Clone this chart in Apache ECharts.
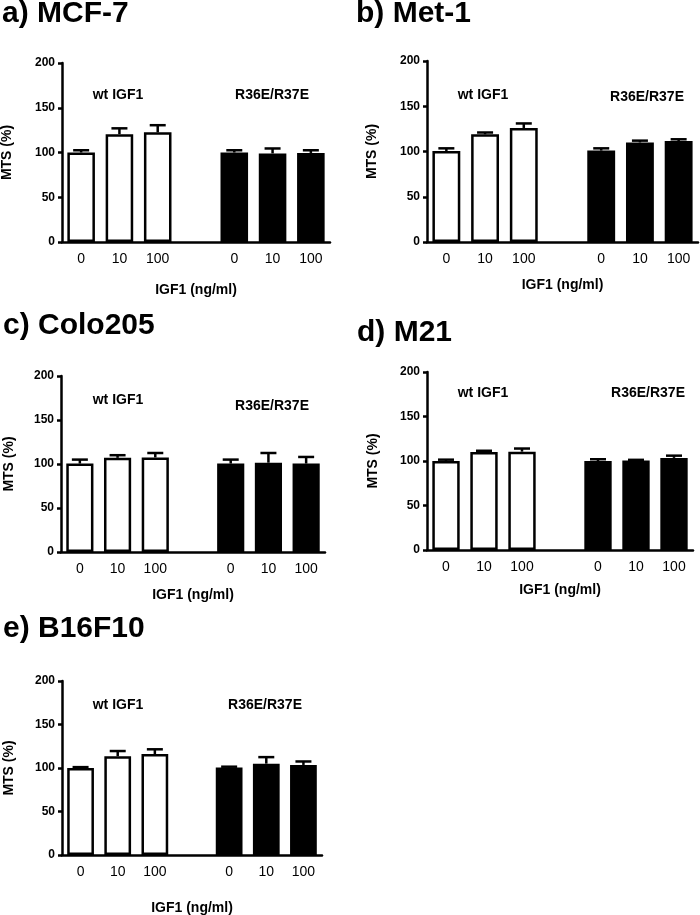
<!DOCTYPE html>
<html>
<head>
<meta charset="utf-8">
<script src="https://cdn.jsdelivr.net/npm/echarts@6/dist/echarts.min.js"></script>
<style>
  html, body { margin: 0; padding: 0; background: #fff; }
  #chart { width: 700px; height: 915px; }
</style>
</head>
<body>
<div id="chart"></div>
<script>
// x categories: wt IGF1 doses, an empty gap slot, then R36E/R37E doses
const doseLabels = ['0', '10', '100', '', '0', '10', '100']
const panelTitles = ['a) MCF-7', 'b) Met-1', 'c) Colo205', 'd) M21', 'e) B16F10']

// MTS (%) means and upper error (SEM), '-' for the gap slot
const mcf7Mean = [100, 120.5, 122.5, '-', 100, 99, 99.5]
const mcf7Err = [2.5, 6.5, 8, '-', 2.5, 5.5, 3]
const met1Mean = [100.5, 119, 126, '-', 101, 110, 111.5]
const met1Err = [3, 2, 5, '-', 2.5, 2, 2]
const colo205Mean = [100.5, 107, 107.5, '-', 100.5, 101.5, 100.5]
const colo205Err = [4.5, 3, 5, '-', 4.5, 11, 7.5]
const m21Mean = [100, 110, 110.5, '-', 100, 100.5, 103.5]
const m21Err = [1.5, 1.5, 3.5, '-', 2, 0.8, 2.5]
const b16f10Mean = [100, 113.5, 116, '-', 100.5, 105, 103.5]
const b16f10Err = [1, 6, 5.5, '-', 1, 7.5, 4]

const yTicks = { min: 0, max: 200, interval: 50 }

const means = [mcf7Mean, met1Mean, colo205Mean, m21Mean, b16f10Mean]
const errs = [mcf7Err, met1Err, colo205Err, m21Err, b16f10Err]

// layout
const grids = [
  { left: 62, top: 63, width: 268, height: 179 },
  { left: 427, top: 61, width: 271, height: 181 },
  { left: 61, top: 376, width: 264, height: 176 },
  { left: 427, top: 372, width: 266, height: 178 },
  { left: 62, top: 681, width: 260, height: 174 }
]
const xNameGap = [41, 36, 36, 33, 46]
const yNameGap = [48, 48, 45, 47, 46]
const titlePos = [[2, -1], [356, -1], [3, 311], [357, 318], [3, 614]]
const groupLabelPos = [
  [[118, 95], [272, 95]],
  [[483, 95], [647, 97]],
  [[118, 400], [272, 406]],
  [[483, 393], [648, 393]],
  [[118, 705], [265, 705]]
]

const FONT = '"Liberation Sans", Arial, Helvetica, sans-serif'
const LW = 2.5

const chart = echarts.init(document.getElementById('chart'), null, { renderer: 'canvas' })

const xAxes = grids.map((g, i) => ({
  type: 'category',
  gridIndex: i,
  data: doseLabels,
  boundaryGap: true,
  name: 'IGF1 (ng/ml)',
  nameLocation: 'middle',
  nameGap: xNameGap[i],
  nameTextStyle: { fontFamily: FONT, fontWeight: 'bold', fontSize: 14, color: '#000' },
  axisLine: { lineStyle: { color: '#000', width: LW } },
  axisTick: { alignWithLabel: true, length: 5, lineStyle: { color: '#000', width: LW } },
  axisLabel: { fontFamily: FONT, fontSize: 14, color: '#000', margin: 10, interval: 0 },
  splitLine: { show: false }
}))

const yAxes = grids.map((g, i) => ({
  type: 'value',
  gridIndex: i,
  min: yTicks.min,
  max: yTicks.max,
  interval: yTicks.interval,
  name: 'MTS (%)',
  nameLocation: 'middle',
  nameGap: yNameGap[i],
  nameRotate: 90,
  nameTextStyle: { fontFamily: FONT, fontWeight: 'bold', fontSize: 14, color: '#000' },
  axisLine: { show: true, lineStyle: { color: '#000', width: LW } },
  axisTick: { show: true, length: 4, lineStyle: { color: '#000', width: LW } },
  axisLabel: { fontFamily: FONT, fontWeight: 'bold', fontSize: 12, color: '#000', margin: 7 },
  splitLine: { show: false }
}))

const series = []
means.forEach((mean, i) => {
  series.push({
    type: 'bar',
    xAxisIndex: i,
    yAxisIndex: i,
    barWidth: '72%',
    data: mean.map((v, k) =>
      v === '-' ? '-' : { value: v, itemStyle: { color: k < 3 ? '#fff' : '#000' } }
    ),
    itemStyle: { borderColor: '#000', borderWidth: LW },
    emphasis: { disabled: true },
    z: 2
  })
  series.push({
    type: 'custom',
    xAxisIndex: i,
    yAxisIndex: i,
    data: mean
      .map((v, k) => (v === '-' ? null : [k, v, v + errs[i][k]]))
      .filter((d) => d),
    encode: { x: 0, y: [1, 2] },
    renderItem: (params, api) => {
      const base = api.coord([api.value(0), api.value(1)])
      const top = api.coord([api.value(0), api.value(2)])
      const half = 8
      const style = { stroke: '#000', lineWidth: LW }
      return {
        type: 'group',
        children: [
          { type: 'line', shape: { x1: base[0], y1: base[1], x2: top[0], y2: top[1] }, style },
          { type: 'line', shape: { x1: top[0] - half, y1: top[1], x2: top[0] + half, y2: top[1] }, style }
        ]
      }
    },
    z: 3
  })
})

const graphic = []
panelTitles.forEach((t, i) => {
  graphic.push({
    type: 'text',
    x: titlePos[i][0],
    y: titlePos[i][1],
    style: { text: t, font: 'bold 30px ' + FONT, fill: '#000' }
  })
  graphic.push({
    type: 'text',
    x: groupLabelPos[i][0][0],
    y: groupLabelPos[i][0][1],
    style: { text: 'wt IGF1', font: 'bold 14px ' + FONT, fill: '#000', align: 'center', verticalAlign: 'middle' }
  })
  graphic.push({
    type: 'text',
    x: groupLabelPos[i][1][0],
    y: groupLabelPos[i][1][1],
    style: { text: 'R36E/R37E', font: 'bold 14px ' + FONT, fill: '#000', align: 'center', verticalAlign: 'middle' }
  })
})

chart.setOption({
  backgroundColor: '#fff',
  animation: false,
  grid: grids.map((g) => Object.assign({ containLabel: false, outerBoundsMode: 'none' }, g)),
  xAxis: xAxes,
  yAxis: yAxes,
  series: series,
  graphic: graphic
})
</script>
</body>
</html>
